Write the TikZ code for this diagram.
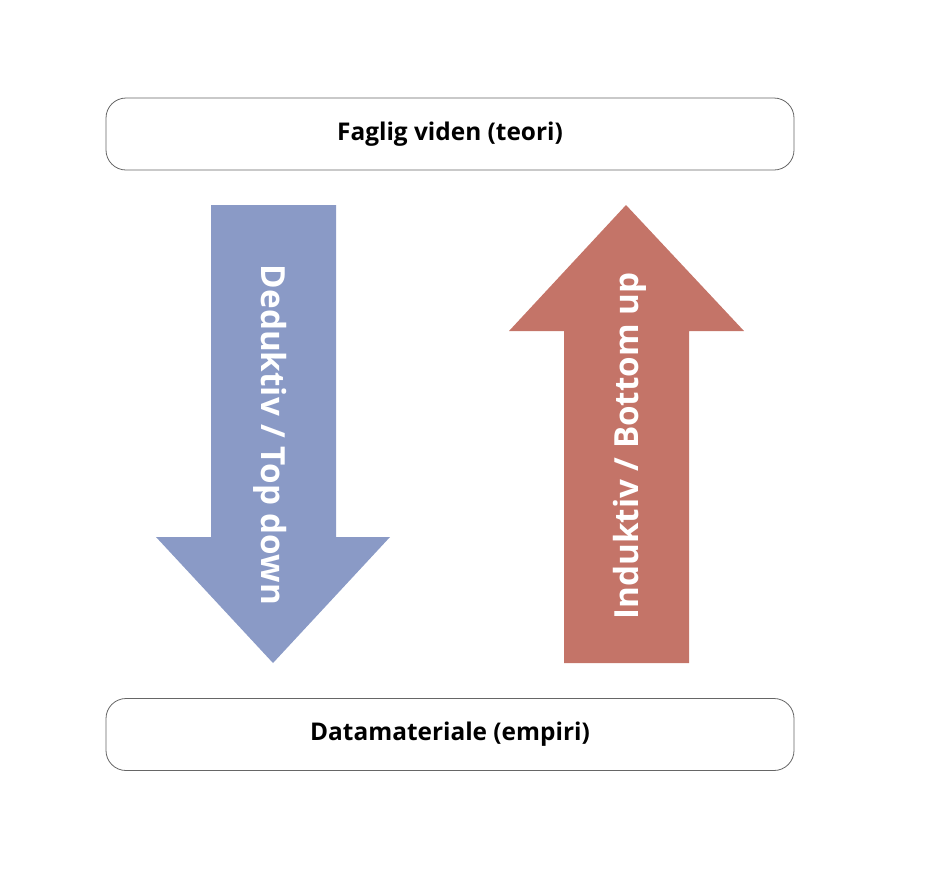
\documentclass[tikz,border=0pt]{standalone}
\usepackage{fontspec}
\setmainfont{Open Sans}
\usetikzlibrary{positioning}
\definecolor{deduktivblaa}{HTML}{8A9AC6}
\definecolor{induktivroed}{HTML}{C47468}
\begin{document}
\begin{tikzpicture}[x=0.5pt,y=-0.5pt]
\tikzstyle{niveau}=[draw=black!60,rounded corners=10pt,minimum width=344pt,minimum height=36pt,font=\bfseries\fontsize{12.2}{14}\selectfont]
\tikzstyle{pil}=[text=white,font=\bfseries\fontsize{16.6}{19}\selectfont]
\useasboundingbox (0,0) rectangle (926,880);
% niveauer
\node [niveau] (teori) at (450,134) {Faglig viden (teori)};
\node [niveau] (empiri) at (450,734.5) {Datamateriale (empiri)};
% pile
\fill [deduktivblaa] (211,205) -- (336,205) -- (336,537) -- (390,537) -- (273,663) -- (156,537) -- (211,537) -- cycle;
\fill [induktivroed] (564,663) -- (689,663) -- (689,331) -- (744,331) -- (626,205) -- (509,331) -- (564,331) -- cycle;
\node [pil,rotate=-90] (deduktiv) at (270,435) {Deduktiv / Top down};
\node [pil,rotate=90] (induktiv) at (630,446) {Induktiv / Bottom up};
\end{tikzpicture}
\end{document}
